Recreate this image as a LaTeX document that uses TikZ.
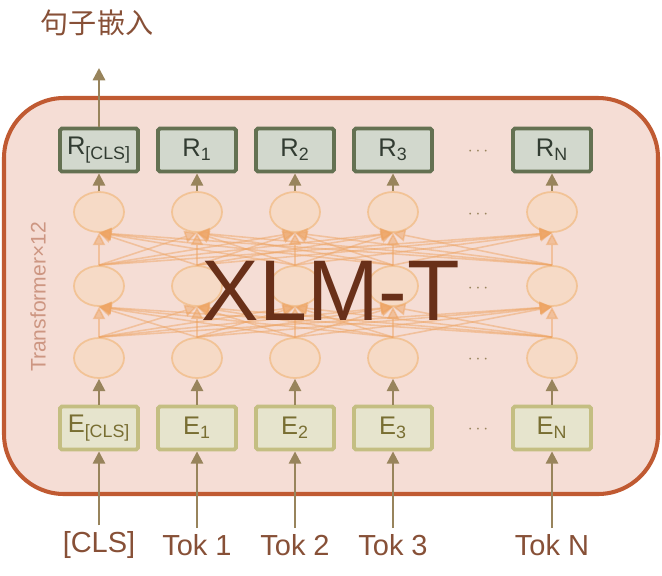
\documentclass[tikz,border=0pt]{standalone}
\usepackage{fontspec}
\setmainfont{Liberation Sans}
\newfontfamily\cjk{Noto Sans CJK SC}
\usetikzlibrary{arrows.meta, positioning, shapes.geometric}
\definecolor{FrameRed}{RGB}{192, 90, 50}
\definecolor{FrameFill}{RGB}{245, 221, 213}
\definecolor{RBorder}{RGB}{100, 113, 82}
\definecolor{RFill}{RGB}{210, 216, 205}
\definecolor{RText}{RGB}{50, 60, 50}
\definecolor{EBorder}{RGB}{196, 190, 130}
\definecolor{EFill}{RGB}{230, 228, 205}
\definecolor{EText}{RGB}{120, 110, 50}
\definecolor{NeuronFill}{RGB}{246, 218, 198}
\definecolor{NeuronBorder}{RGB}{242, 195, 150}
\definecolor{LinkOrange}{RGB}{238, 165, 100}
\definecolor{ArrowKhaki}{RGB}{152, 132, 92}
\definecolor{LabelBrown}{RGB}{135, 80, 55}
\definecolor{TitleBrown}{RGB}{105, 48, 25}
\definecolor{SideText}{RGB}{205, 150, 130}

\begin{document}
\begin{tikzpicture}[x=0.02cm, y=-0.02cm,
        rbox/.style={rectangle, draw=RBorder, fill=RFill, line width=2.2pt, minimum width=1.56cm, minimum height=0.86cm, inner sep=0pt, rounded corners=1pt, text=RText, font=\fontsize{14.5}{16}\selectfont},
        ebox/.style={rectangle, draw=EBorder, fill=EFill, line width=2.2pt, minimum width=1.56cm, minimum height=0.86cm, inner sep=0pt, rounded corners=1pt, text=EText, font=\fontsize{14.5}{16}\selectfont},
        neuron/.style={ellipse, draw=NeuronBorder, fill=NeuronFill, line width=1pt, minimum width=1.0cm, minimum height=0.8cm, inner sep=0pt},
        link/.style={LinkOrange, opacity=0.5, line width=0.9pt, -{Triangle[length=7pt, width=7pt]}},
        arrow/.style={ArrowKhaki, line width=1.3pt, -{Triangle[length=7pt, width=7pt]}},
        tok/.style={text=LabelBrown, font=\fontsize{16.5}{19}\selectfont},
        dots/.style={text=ArrowKhaki, font=\normalsize}
    ]
        \useasboundingbox (0,0) rectangle (662,575);
        \draw[FrameRed, fill=FrameFill, line width=2.3pt, rounded corners=1.2cm] (4,98) rectangle (658,494);

        % columns
        \foreach \i/\x/\s/\t in {0/99/{[CLS]}/{[CLS]}, 1/197/1/{Tok 1}, 2/295/2/{Tok 2}, 3/393/3/{Tok 3}, 4/552/N/{Tok N}} {
            \node[rbox] (r\i) at (\x,150) {R\textsubscript{\s}};
            \node[neuron] (h3\i) at (\x,212) {};
            \node[neuron] (h2\i) at (\x,286) {};
            \node[neuron] (h1\i) at (\x,358) {};
            \node[ebox] (e\i) at (\x,428) {E\textsubscript{\s}};
            \node[tok] (tok\i) at (\x,545) {\t};
        }

        \foreach \y [count=\j] in {152,215,289,360,430}
            \node[dots] (d\j) at (478,\y) {$\cdots$};

        \foreach \a in {0,...,4}
            \foreach \b in {0,...,4} {
                \draw[link] (h1\a.north) -- (h2\b.south);
                \draw[link] (h2\a.north) -- (h3\b.south);
            }

        \foreach \i in {0,...,4} {
            \draw[arrow] (tok\i.north) -- (e\i.south);
            \draw[arrow] (e\i.north) -- (h1\i.south);
            \draw[arrow] (h3\i.north) -- (r\i.south);
        }

        \coordinate (out) at (99,68);
        \draw[arrow] (r0.north) -- (out);
        \node[text=LabelBrown, font=\cjk\fontsize{16}{18}\selectfont] (emb) at (97,23) {句子嵌入};

        \node[rotate=90, text=SideText, font=\fontsize{12}{14}\selectfont] (layers) at (38,297) {Transformer×12};
        \node[text=TitleBrown, font=\fontsize{49}{55}\selectfont] (model) at (331,291) {XLM-T};
    \end{tikzpicture}
\end{document}
